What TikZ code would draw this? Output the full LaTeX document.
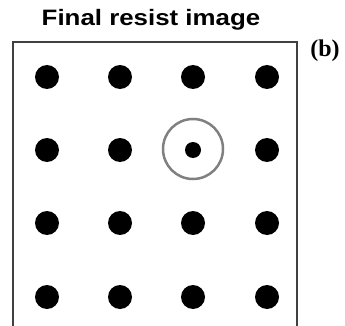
\documentclass[tikz,border=0pt]{standalone}
\usepackage{fontspec}
\setmainfont{Liberation Serif}
\setsansfont{Liberation Sans}
\newfontfamily\titlefont[FakeStretch=1.16]{Liberation Sans Bold}
\begin{document}
\begin{tikzpicture}[x=1pt,y=-1pt,
  dot/.style={circle,fill=black,inner sep=0pt,minimum size=24pt},
  smalldot/.style={circle,fill=black,inner sep=0pt,minimum size=16pt},
  ring/.style={circle,draw=black!50,line width=2.5pt,inner sep=0pt,minimum size=60pt},
  frame/.style={draw=black!75,line width=1.5pt}]
\useasboundingbox (0,0) rectangle (345,326);
\node[font=\titlefont\fontsize{22.3}{26}\selectfont,inner sep=0pt,anchor=base] (title) at (151,26) {Final resist image};
\node[font=\rmfamily\bfseries\fontsize{24}{28}\selectfont,inner sep=0pt] (lab) at (325,51) {(b)};
\draw[frame] (13,327) -- (13,42) -- (297,42) -- (297,327);
\foreach \i/\x in {1/47,2/120,3/193,4/267}{
  \foreach \j/\y in {1/77,2/150,3/223,4/297}{
    \ifnum\i=3 \ifnum\j=2 \else \node[dot] (d\i\j) at (\x,\y) {};\fi
    \else \node[dot] (d\i\j) at (\x,\y) {};\fi
  }
}
\node[smalldot] (d32) at (193,150) {};
\node[ring] (r) at (193,149) {};
\end{tikzpicture}
\end{document}
